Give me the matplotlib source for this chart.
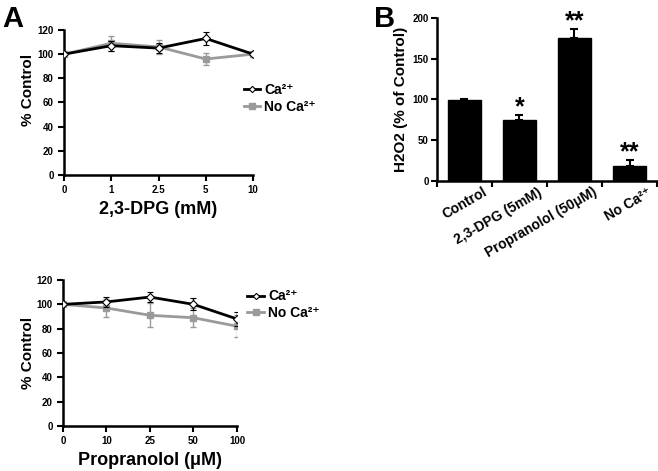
import numpy as np
import matplotlib.pyplot as plt

plt.rcParams['font.family'] = ['Liberation Sans', 'DejaVu Sans']
plt.rcParams['font.weight'] = 'bold'

# panel A (top): 2,3-DPG
dpg_labels = ['0', '1', '2.5', '5', '10']
dpg_ca = [100, 107, 105, 113, 100]
dpg_ca_err = [0, 4, 4, 5, 0]
dpg_noca = [100, 109, 106, 96, 100]
dpg_noca_err = [0, 6, 6, 5, 0]

# panel A (bottom): propranolol
prop_labels = ['0', '10', '25', '50', '100']
prop_ca = [100, 102, 106, 100, 88]
prop_ca_err = [0, 4, 4, 5, 6]
prop_noca = [100, 97, 91, 89, 82]
prop_noca_err = [0, 7, 10, 8, 9]

# panel B: H2O2
bar_labels = ['Control', '2,3-DPG (5mM)', 'Propranolol (50\u03bcM)', 'No Ca\u00b2\u207a']
bar_values = [99, 75, 175, 18]
bar_err = [1, 6, 12, 8]
bar_stars = ['', '*', '**', '**']

GREY = '#9a9a9a'

fig = plt.figure(figsize=(6.58, 4.71), dpi=100)


def line_panel(rect, labels, ca, ca_err, noca, noca_err, xlabel, leg_anchor, ylab_xy):
    ax = fig.add_axes(rect)
    x = np.arange(len(labels))
    e2 = ax.errorbar(x, noca, yerr=noca_err, color=GREY, lw=2, marker='s', ms=5,
                     capsize=2, elinewidth=1, zorder=2)
    e1 = ax.errorbar(x, ca, yerr=ca_err, color='black', lw=2, marker='D', ms=4,
                     mfc='white', mec='black', mew=0.8, capsize=2, elinewidth=1,
                     zorder=3)
    ax.set_xlim(0, len(labels) - 1)
    ax.set_ylim(0, 120)
    ax.set_yticks(range(0, 121, 20))
    ax.set_xticks(x)
    ax.set_xticklabels(labels)
    ax.tick_params(labelsize=7, width=1.5, length=4)
    for s in ['top', 'right']:
        ax.spines[s].set_visible(False)
    for s in ['left', 'bottom']:
        ax.spines[s].set_linewidth(1.8)
    ax.set_ylabel('% Control', fontsize=11, fontweight='bold')
    ax.yaxis.set_label_coords(*ylab_xy)
    ax.set_xlabel(xlabel, fontsize=13, fontweight='bold', labelpad=4)
    ax.legend([e1[0], e2[0]], ['Ca\u00b2\u207a', 'No Ca\u00b2\u207a'],
              loc='center left', bbox_to_anchor=leg_anchor,
              frameon=False, fontsize=10, handlelength=1.2, handletextpad=0.3,
              labelspacing=0.2, borderaxespad=0, borderpad=0, markerscale=0.8)
    ax.patch.set_alpha(0)
    return ax


line_panel([0.0973, 0.6285, 0.2872, 0.3078], dpg_labels, dpg_ca, dpg_ca_err,
           dpg_noca, dpg_noca_err, '2,3-DPG (mM)', (0.95, 0.53), (-0.153, 0.59))
line_panel([0.0957, 0.0955, 0.2644, 0.3100], prop_labels, prop_ca, prop_ca_err,
           prop_noca, prop_noca_err, 'Propranolol (\u03bcM)', (1.06, 0.83), (-0.161, 0.5))

# panel B
axb = fig.add_axes([0.6641, 0.6157, 0.3344, 0.3461])
xb = np.arange(len(bar_values))
axb.bar(xb, bar_values, width=0.6, color='black', edgecolor='black')
axb.errorbar(xb, bar_values, yerr=[np.zeros(len(bar_err)), bar_err], fmt='none',
             ecolor='black', elinewidth=1.5, capsize=3, capthick=1.5)
for xi, v, e, s in zip(xb, bar_values, bar_err, bar_stars):
    if s:
        axb.text(xi, v + e + 9, s, ha='center', va='center', fontsize=18,
                 fontweight='bold')
axb.set_xlim(-0.5, 3.5)
axb.set_ylim(0, 200)
axb.set_yticks(range(0, 201, 50))
# labels end a little right of each bar centre, like the original
axb.set_xticks(xb + 0.33)
axb.set_xticklabels(bar_labels, rotation=30, ha='right', rotation_mode='anchor',
                    fontsize=10, fontweight='bold')
axb.set_xticks(np.arange(-0.5, 3.6, 1), minor=True)
axb.tick_params(axis='x', which='major', length=0, pad=3)
axb.tick_params(axis='x', which='minor', length=4, width=1.5)
axb.tick_params(axis='y', labelsize=7, width=1.5, length=4, pad=2)
for s in ['top', 'right']:
    axb.spines[s].set_visible(False)
for s in ['left', 'bottom']:
    axb.spines[s].set_linewidth(1.8)
axb.set_ylabel('H2O2 (% of Control)', fontsize=11, fontweight='bold')
axb.yaxis.set_label_coords(-0.13, 0.5)

fig.text(0.004, 0.99, 'A', fontsize=21, fontweight='bold', va='top')
fig.text(0.569, 0.99, 'B', fontsize=21, fontweight='bold', va='top')

fig.savefig('out.png', dpi=100)
